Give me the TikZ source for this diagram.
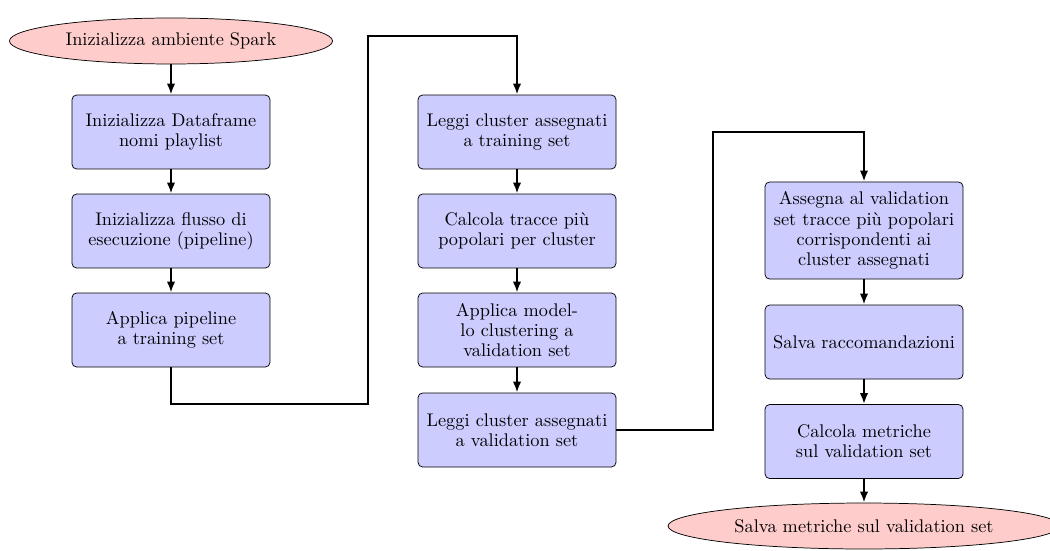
\documentclass[tikz,border=0pt]{standalone}
\usetikzlibrary{shapes.geometric,arrows.meta}
\begin{document}
\begin{tikzpicture}[x=0.546pt,y=-0.546pt,
  font=\fontsize{10}{11}\selectfont,
  startstop/.style={ellipse,draw,fill=red!20,inner sep=0pt,minimum height=25.1pt},
  process/.style={rectangle,rounded corners=2.5pt,draw,fill=blue!20,inner sep=2pt,
    minimum width=108.1pt,minimum height=40.4pt,align=center},
  flow/.style={draw,line width=1.5pt,-{Latex[length=6pt,width=4.6pt]}}]
\useasboundingbox (0,0) rectangle (1050,550);

% first column
\node[startstop,minimum width=176.4pt] (e1) at (171,41) {Inizializza ambiente Spark};
\node[process] (b1) at (171,132) {Inizializza Dataframe\\nomi playlist};
\node[process] (b2) at (171,231) {Inizializza flusso di\\esecuzione (pipeline)};
\node[process] (b3) at (171,330) {Applica pipeline\\a training set};

% second column
\node[process] (b4) at (517,132) {Leggi cluster assegnati\\a training set};
\node[process] (b5) at (517,231) {Calcola tracce più\\popolari per cluster};
\node[process] (b6) at (517,330) {Applica model-\\lo clustering a\\validation set};
\node[process] (b7) at (517,430) {Leggi cluster assegnati\\a validation set};

% third column
\node[process,minimum height=53pt] (b8) at (864,230.5) {Assegna al validation\\set tracce più popolari\\corrispondenti ai\\cluster assegnati};
\node[process] (b9) at (864,342) {Salva raccomandazioni};
\node[process] (b10) at (864,441.5) {Calcola metriche\\sul validation set};
\node[startstop,minimum width=214pt] (e2) at (864,526) {Salva metriche sul validation set};

% bend points of the column-to-column links
\coordinate (c1) at (368,404);
\coordinate (c2) at (368,36);
\coordinate (c3) at (713,132);

\draw[flow] (e1) -- (b1);
\draw[flow] (b1) -- (b2);
\draw[flow] (b2) -- (b3);
\draw[flow] (b3.south) |- (c1) -- (c2) -| (b4.north);
\draw[flow] (b4) -- (b5);
\draw[flow] (b5) -- (b6);
\draw[flow] (b6) -- (b7);
\draw[flow] (b7.east) -| (c3) -| (b8.north);
\draw[flow] (b8) -- (b9);
\draw[flow] (b9) -- (b10);
\draw[flow] (b10) -- (e2);
\end{tikzpicture}
\end{document}
